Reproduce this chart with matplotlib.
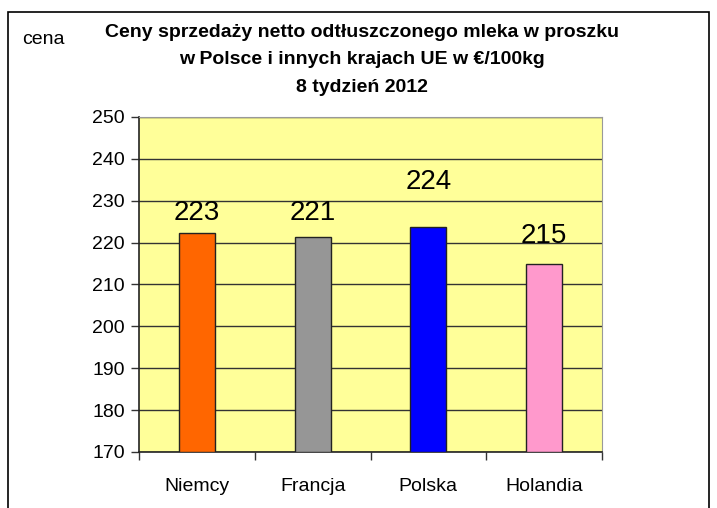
import matplotlib.pyplot as plt
from matplotlib.patches import Rectangle

# dane z wykresu (tydzien 8, 2012)
kraje = ['Niemcy', 'Francja', 'Polska', 'Holandia']
ceny = [222.2, 221.3, 223.8, 214.9]
etykiety = ['223', '221', '224', '215']
kolory = ['#FF6600', '#969696', '#0000FF', '#FF99CC']
# przesuniecie etykiet nad slupkami (w punktach)
odstep = [5, 8, 23, 11]

plt.rcParams['font.family'] = ['Liberation Sans', 'DejaVu Sans']

fig = plt.figure(figsize=(7.17, 5.08), dpi=100)
fig.patches.append(Rectangle((8 / 717, -0.02), (709 - 8) / 717, 1 - 12 / 508 + 0.02,
                             transform=fig.transFigure, fill=False,
                             edgecolor='black', linewidth=1.2))

ax = fig.add_axes([139 / 717, 1 - 452 / 508, (602 - 139) / 717, (452 - 117) / 508])
ax.set_facecolor('#FFFF99')

x = range(len(kraje))
bars = ax.bar(x, [c - 170 for c in ceny], bottom=170, width=0.31,
              color=kolory, edgecolor='#222222', linewidth=1, zorder=3)

for b, t, o in zip(bars, etykiety, odstep):
    ax.annotate(t, (b.get_x() + b.get_width() / 2, b.get_y() + b.get_height()),
                xytext=(0, o), textcoords='offset points',
                ha='center', va='bottom', fontsize=20, zorder=4)

ax.set_ylim(170, 250)
ax.set_xlim(-0.5, 3.5)
ax.set_yticks(range(170, 251, 10))
ax.yaxis.grid(True, color='#333333', linewidth=1, zorder=1)
ax.set_xticks([i - 0.5 for i in range(5)], minor=False)
ax.set_xticklabels([])
ax.set_xticks(list(x), minor=True)
ax.set_xticklabels(kraje, minor=True, fontsize=14)
ax.tick_params(axis='x', which='minor', length=0, pad=19)
ax.tick_params(axis='x', which='major', length=6, width=1, color='#333333')
ax.tick_params(axis='y', length=6, width=1, color='#333333', labelsize=14, pad=4)

for s in ['top', 'right']:
    ax.spines[s].set_color('#999999')
for s in ['left', 'bottom']:
    ax.spines[s].set_color('#222222')
    ax.spines[s].set_linewidth(1.2)

fig.text(22 / 717, 1 - 40 / 508, 'cena', fontsize=14, ha='left', va='center')
fig.text(362 / 717, 1 - 60 / 508,
         'Ceny sprzedaży netto odtłuszczonego mleka w proszku\n'
         'w Polsce i innych krajach UE w €/100kg\n8 tydzień 2012',
         fontsize=14, fontweight='bold', ha='center', va='center',
         linespacing=1.8)

fig.savefig('out.png', dpi=100)
